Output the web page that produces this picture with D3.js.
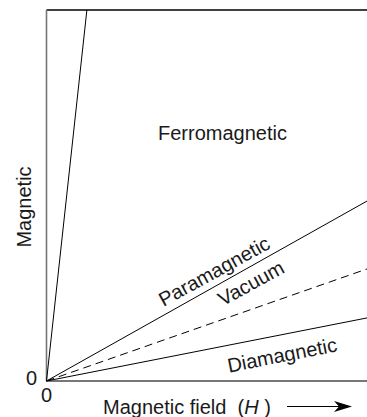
<!DOCTYPE html>
<html><head><meta charset="utf-8">
<script src="https://cdn.jsdelivr.net/npm/d3@7"></script>
<style>html,body{margin:0;padding:0;background:#fff}svg{display:block}text{font-family:"Liberation Sans",Arial,Helvetica,sans-serif;fill:#1a1a1a}</style>
</head><body>
<script>
const series = ["Ferromagnetic", "Paramagnetic", "Vacuum", "Diamagnetic"];
const endH = [1.26, 10, 10, 10];
const endM = [10, 4.85, 3.02, 1.70];
const labelH = [5.49, 5.23, 6.38, 7.35];
const labelM = [6.68, 2.96, 2.64, 0.70];
const tickLabels = ["0"];

const W = 367, H = 417, FS = 20;
const svg = d3.select("body").append("svg").attr("width", W).attr("height", H);
const x = d3.scaleLinear([0, 10], [46.5, 367]);
const y = d3.scaleLinear([0, 10], [381, 10]);

// frame
svg.append("line").attr("x1", x(0)).attr("x2", x(10)).attr("y1", y(10)).attr("y2", y(10))
  .attr("stroke", "#000").attr("stroke-width", 1.3);
svg.append("line").attr("x1", x(0)).attr("x2", x(0)).attr("y1", y(10)).attr("y2", y(0))
  .attr("stroke", "#777").attr("stroke-width", 1.6);
svg.append("line").attr("x1", x(0)).attr("x2", x(10)).attr("y1", y(0)).attr("y2", y(0))
  .attr("stroke", "#777").attr("stroke-width", 2);

// lines
series.forEach((s, i) => {
  svg.append("line").attr("x1", x(0)).attr("y1", y(0))
    .attr("x2", x(endH[i])).attr("y2", y(endM[i]))
    .attr("stroke", "#000").attr("stroke-width", 1)
    .attr("stroke-dasharray", s === "Vacuum" ? "8,5" : null);
});

// labels
const angleOf = i => -Math.atan2(y(0) - y(endM[i]), x(endH[i]) - x(0)) * 180 / Math.PI;
series.forEach((s, i) => {
  let a = 0;
  if (s === "Paramagnetic") a = angleOf(i) + 0.5;
  if (s === "Vacuum") a = angleOf(1) + 0.5;
  if (s === "Diamagnetic") a = angleOf(i);
  svg.append("text").attr("text-anchor", "middle").attr("dominant-baseline", "central")
    .attr("font-size", FS)
    .attr("transform", `translate(${x(labelH[i])},${y(labelM[i])}) rotate(${a})`)
    .text(s);
});

// axis zero labels
svg.append("text").attr("x", x(0) - 15).attr("y", y(0) - 3).attr("text-anchor", "middle")
  .attr("dominant-baseline", "central").attr("font-size", FS).text(tickLabels[0]);
svg.append("text").attr("x", x(0)).attr("y", y(0) + 14).attr("text-anchor", "middle")
  .attr("dominant-baseline", "central").attr("font-size", FS).text(tickLabels[0]);

// axis titles
svg.append("text").attr("transform", `translate(24,207) rotate(-90)`).attr("text-anchor", "middle")
  .attr("dominant-baseline", "central").attr("font-size", FS).text("Magnetic");
const xt = svg.append("text").attr("x", 103).attr("y", 406.5).attr("dominant-baseline", "central")
  .attr("font-size", FS).attr("xml:space", "preserve");
xt.append("tspan").text("Magnetic field  (");
xt.append("tspan").attr("font-style", "italic").text("H");
xt.append("tspan").text(" )");

// arrow
svg.append("line").attr("x1", 287).attr("x2", 340).attr("y1", 406.5).attr("y2", 406.5)
  .attr("stroke", "#000").attr("stroke-width", 1.2);
svg.append("path").attr("d", "M352,406.5 L334,401 L339,406.5 L334,412 Z").attr("fill", "#000");
</script>
</body></html>
